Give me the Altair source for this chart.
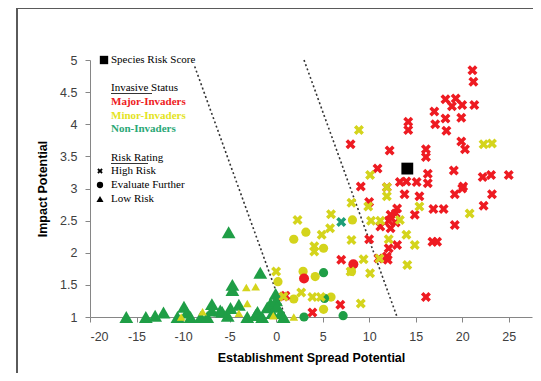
import altair as alt
import pandas as pd

# ---------------- data ----------------
major_high = [(21.1,4.84),(21.2,4.66),(18.2,4.39),(19.3,4.40),(18.9,4.28),(20.0,4.30),(21.3,4.30),
              (17.0,4.20),(18.2,4.09),(19.9,4.10),(14.2,4.04),(14.2,3.91),(17.1,4.00),(18.3,3.90),
              (8.0,3.69),(19.9,3.73),(20.3,3.61),(12.2,3.59),(16.1,3.61),(16.1,3.49),(10.9,3.31),
              (16.3,3.23),(16.3,3.08),(19.1,3.28),(22.2,3.18),(23.1,3.21),(25.0,3.21),(13.3,3.10),
              (14.0,3.11),(15.1,3.10),(9.1,3.03),(20.1,3.03),(13.8,2.91),(15.4,2.88),(19.2,2.91),
              (20.0,3.00),(23.2,2.91),(22.3,2.73),(16.9,2.68),(18.0,2.68),(14.9,2.59),(19.2,2.43),
              (16.8,2.17),(17.3,2.17),(16.1,1.31),(10.0,2.79),(13.0,2.69),(12.85,2.61),(12.3,2.59),
              (12.1,2.50),(12.85,2.47),(11.2,2.41),(12.3,2.38),(10.0,2.21),(13.0,2.12),(12.1,2.07),
              (11.9,1.94),(12.0,1.89),(7.0,1.89),(6.9,1.19),(3.9,1.07),(1.0,1.33),(11.9,3.02),
              (11.0,1.91),(0.8,1.32)]
major_eval = [(8.3,1.82),(3.0,1.60)]
minor_high = [(8.9,3.91),(10.1,3.21),(22.3,3.69),(23.2,3.70),(11.9,3.02),(11.9,2.88),(15.4,2.72),
              (20.8,2.61),(14.0,2.28),(14.9,2.12),(14.1,1.81),(13.3,2.51),(12.1,2.21),(8.1,2.78),
              (9.9,2.72),(5.9,2.60),(10.2,2.50),(11.2,2.50),(2.3,2.51),(5.8,2.38),(4.9,2.28),
              (4.1,2.10),(4.1,2.02),(8.1,2.20),(11.1,1.91),(9.4,1.90),(8.0,1.71),(10.1,1.68),
              (2.7,1.38),(3.9,1.31),(4.8,1.31),(9.1,1.21),(0.0,1.71),(0.8,1.32)]
minor_eval = [(8.2,2.51),(3.2,2.32),(1.9,2.21),(5.1,2.07),(8.1,1.71),(2.9,1.71),(4.2,1.63),
              (5.9,1.31),(5.1,1.12),(1.9,1.28),(0.2,1.55)]
minor_low = [(-3.2,1.46),(-2.2,1.47),(-3.1,1.21),(-4.0,1.06),(-7.9,1.08),(-10.2,1.0),(1.9,1.0),(-0.3,1.02)]
non_high = [(7.0,2.48)]
non_eval = [(5.1,1.69),(5.2,1.29),(3.0,1.0),(7.2,1.02)]
non_low = [(-16.1,1.0),(-14.0,1.0),(-13.0,1.02),(-12.1,1.07),(-10.6,1.0),(-9.9,1.16),(-9.6,1.07),
           (-9.2,1.0),(-8.1,1.0),(-7.4,1.0),(-6.9,1.2),(-6.9,1.1),(-6.0,1.1),(-5.2,1.02),(-4.9,1.14),
           (-4.0,1.19),(-3.1,1.0),(-2.2,1.03),(-2.0,1.08),(-1.5,1.0),(-0.95,1.15),(-0.6,1.21),
           (-0.05,1.36),(0.0,1.26),(0.1,1.16),(0.5,1.06),(0.8,1.0),(-0.4,1.06),(-5.1,2.32),
           (-1.7,1.69),(-4.7,1.50),(-4.7,1.42),(-5.8,1.08)]
species_score = [(14.1,3.31)]
threshold_low = [(-8.75,4.9),(1.0,1.0)]
threshold_high = [(3.0,5.0),(13.0,1.0)]

x_ticks = [-20,-15,-10,-5,0,5,10,15,20,25]
y_ticks = [1,1.5,2,2.5,3,3.5,4,4.5,5]
x_title = "Establishment Spread Potential"
y_title = "Impact Potential"

legend_top = "Species Risk Score"
status_title = "Invasive Status"
status_labels = ["Major-Invaders", "Minor-Invaders", "Non-Invaders"]
rating_title = "Risk Rating"
rating_labels = ["High Risk", "Evaluate Further", "Low Risk"]

RED = "#ee1b22"
YEL = "#d4d41c"
GRN = "#1f9e46"
TEAL = "#1e9e78"
XPATH = ("M-1,-0.5L-0.5,-1L0,-0.5L0.5,-1L1,-0.5L0.5,0L1,0.5L0.5,1L0,0.5"
         "L-0.5,1L-1,0.5L-0.5,0Z")

def df(pts):
    return pd.DataFrame(pts, columns=["x", "y"])

xs = alt.X("x:Q", scale=alt.Scale(domain=[-20, 27.5], nice=False, zero=False),
           axis=alt.Axis(values=x_ticks, title=x_title, grid=False,
                         labelExpr="datum.value + ''"))
ys = alt.Y("y:Q", scale=alt.Scale(domain=[1, 5], nice=False, zero=False),
           axis=alt.Axis(values=y_ticks, title=y_title, grid=False,
                         labelExpr="datum.value + ''"))

def pts(data, shape, color, size):
    return alt.Chart(df(data)).mark_point(shape=shape, filled=True, color=color,
                                          size=size, opacity=1).encode(x=xs, y=ys)

lines_df = pd.DataFrame(
    [(x, y, "a") for x, y in threshold_low] + [(x, y, "b") for x, y in threshold_high],
    columns=["x", "y", "g"])
lines = alt.Chart(lines_df).mark_line(color="#333333", strokeWidth=1.6,
                                      strokeDash=[2, 2.5]).encode(x=xs, y=ys, detail="g:N")

layers = [
    lines,
    pts(non_low, "triangle-up", GRN, 190),
    pts(minor_low, "triangle-up", YEL, 75),
    pts(minor_eval, "circle", YEL, 85),
    pts(non_eval, "circle", GRN, 85),
    pts(major_eval, "circle", RED, 100),
    pts(major_high, XPATH, RED, 100),
    pts(minor_high, XPATH, YEL, 100),
    pts(non_high, XPATH, TEAL, 100),
    pts(species_score, "square", "#000000", 140),
]

one = pd.DataFrame({"a": [0]})
SERIF = "Liberation Serif"

def txt(label, px, py, color="#000000", bold=False):
    return alt.Chart(one).mark_text(text=label, align="left", baseline="middle",
                                    font=SERIF, fontSize=11,
                                    fontWeight="bold" if bold else "normal",
                                    color=color).encode(x=alt.value(px), y=alt.value(py))

def rule(x1, x2, y1, y2, color, w):
    return alt.Chart(one).mark_rule(color=color, strokeWidth=w).encode(
        x=alt.value(x1), x2=alt.value(x2), y=alt.value(y1), y2=alt.value(y2))

def sym(shape, px, py, size):
    return alt.Chart(one).mark_point(shape=shape, filled=True, color="#000000",
                                     size=size, opacity=1).encode(x=alt.value(px), y=alt.value(py))

LX = 21
deco = [
    sym("square", 14, 0, 70),
    txt(legend_top, LX, 0),
    txt(status_title, LX, 28),
    rule(LX, LX + 41, 33.5, 33.5, "#000000", 0.8),
    txt(status_labels[0], LX, 41.5, RED, True),
    txt(status_labels[1], LX, 55.5, "#e4e41e", True),
    txt(status_labels[2], LX, 69, "#2aa876", True),
    txt(rating_title, LX, 98),
    rule(LX, LX + 37, 103.5, 103.5, "#000000", 0.8),
    sym(XPATH, 10, 111, 30),
    txt(rating_labels[0], LX, 111),
    sym("circle", 10, 125, 40),
    txt(rating_labels[1], LX, 125),
    sym("triangle-up", 10, 139, 50),
    txt(rating_labels[2], LX, 139),
    # document box border
    rule(-73, -73, -52, 330, "#5a5a5a", 2),
    rule(-73, 460, -52, -52, "#5a5a5a", 2),
]

chart = alt.layer(*layers, *deco).properties(
    width=442, height=257,
    autosize=alt.AutoSizeParams(type="none"),
    padding={"left": 82, "top": 52, "right": 1, "bottom": 56},
).configure_view(stroke=None).configure_axis(
    domainColor="#868686", tickColor="#868686", tickSize=5,
    labelColor="#404040", labelFont="Liberation Sans", labelFontSize=12.5,
    titleFont="Liberation Sans", titleFontSize=12.5, titleFontWeight="bold",
    titleColor="#000000",
).configure_axisX(labelPadding=8, titlePadding=9).configure_axisY(
    labelPadding=8, titlePadding=10)

chart.save("out.html", embed_options={"renderer": "svg", "actions": False})
